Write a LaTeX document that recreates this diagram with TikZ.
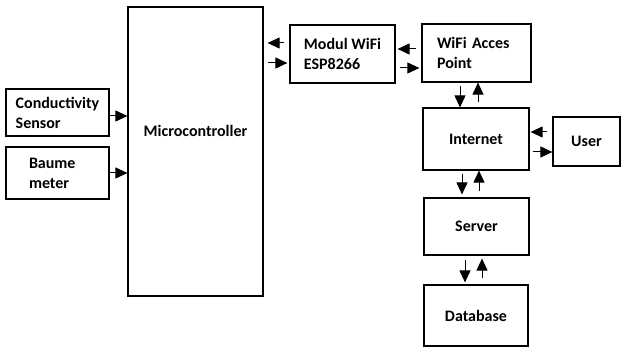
\documentclass[tikz,border=0pt]{standalone}
\usepackage{fontspec}
\setmainfont{Carlito}
\usepackage{tikz}
\usetikzlibrary{positioning}
\usetikzlibrary{arrows.meta}

\begin{document}
\begin{tikzpicture}[x=1pt, y=-1pt,
	block/.style={draw=black, line width=1.2pt, align=left, inner sep=0pt, font=\bfseries\fontsize{16}{20}\selectfont},
	link/.style={-{Triangle[length=12pt,width=11pt]}, line width=1pt}]
	\useasboundingbox (0,0) rectangle (622,347);
	% blocks
	\node[block, minimum width=135, minimum height=289] (MC) at (195.5,151.5) {};
	\node[font=\bfseries\fontsize{16}{20}\selectfont] (MCtext) at ([yshift=21pt]MC.center) {Microcontroller};
	\node[block, minimum width=103, minimum height=47] (CS) at (57.5,112.5) {Conductivity\\Sensor};
	\node[block, minimum width=103, minimum height=52, text width=57, inner xsep=23] (BM) at (57.5,173) {Baume\\meter};
	\node[block, minimum width=105, minimum height=58] (MOD) at (342.5,54) {Modul WiFi\\ESP8266};
	\node[block, minimum width=109, minimum height=58, text width=79, inner xsep=15] (AP) at (476.5,53) {WiFi Acces\\Point};
	\node[block, minimum width=106, minimum height=62] (NET) at (476,139) {Internet};
	\node[block, minimum width=67, minimum height=49] (USR) at (586.5,141.5) {User};
	\node[block, minimum width=105, minimum height=57] (SRV) at (476.5,226.5) {Server};
	\node[block, minimum width=104, minimum height=61] (DB) at (476,315.5) {Database};
	% sensors to microcontroller
	\draw[link] ([yshift=-3.5pt]CS.east) -- ([yshift=35.5pt]MC.west);
	\draw[link] (BM.east) -- ([yshift=-21.5pt]MC.west);
	% microcontroller and wifi
	\draw[link, shorten <=5pt, shorten >=4pt] ([yshift=11pt]MOD.west) -- ([yshift=108.5pt]MC.east);
	\draw[link, shorten <=4pt, shorten >=2pt] ([yshift=88.5pt]MC.east) -- ([yshift=-9pt]MOD.west);
	\draw[link, shorten <=5pt, shorten >=2pt] ([yshift=4pt]AP.west) -- ([yshift=5pt]MOD.east);
	\draw[link, shorten <=4pt, shorten >=2pt] ([yshift=-14pt]MOD.east) -- ([yshift=-15pt]AP.west);
	% access point and internet
	\draw[link, shorten <=3pt] ([xshift=-16.5pt]AP.south) -- ([xshift=-16pt]NET.north);
	\draw[link, shorten <=5pt] ([xshift=2pt]NET.north) -- ([xshift=1.5pt]AP.south);
	% user
	\draw[link, shorten <=5pt, shorten >=1pt] ([yshift=9.5pt]USR.west) -- ([yshift=7pt]NET.east);
	\draw[link, shorten <=3pt] ([yshift=-13pt]NET.east) -- ([yshift=-10.5pt]USR.west);
	% server and database
	\draw[link, shorten <=3pt, shorten >=3pt] ([xshift=-14pt]NET.south) -- ([xshift=-14.5pt]SRV.north);
	\draw[link, shorten <=6pt] ([xshift=2.5pt]SRV.north) -- ([xshift=3pt]NET.south);
	\draw[link, shorten <=4pt, shorten >=2pt] ([xshift=-11.5pt]SRV.south) -- ([xshift=-11pt]DB.north);
	\draw[link, shorten <=6pt, shorten >=3pt] ([xshift=6pt]DB.north) -- ([xshift=5.5pt]SRV.south);
\end{tikzpicture}
\end{document}
